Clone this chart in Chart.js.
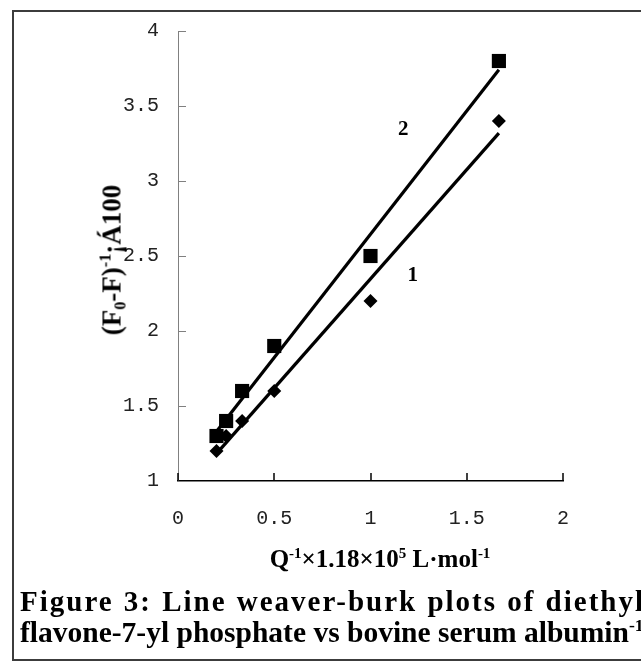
<!DOCTYPE html>
<html>
<head>
<meta charset="utf-8">
<script src="https://cdn.jsdelivr.net/npm/chart.js@4.4.1/dist/chart.umd.min.js"></script>
<style>
  html, body { margin: 0; padding: 0; background: #fff; width: 641px; height: 662px; overflow: hidden; }
  #frame { position: absolute; left: 12px; top: 10px; width: 700px; height: 647px; border: 2px solid #3c3c3c; }
  #chart { position: absolute; left: 0; top: 0; }
  .serif { position: absolute; font-family: "Liberation Serif", "Times New Roman", serif; font-weight: bold; color: #000; white-space: nowrap; }
  .serif sup, .serif sub { font-size: 0.6em; position: relative; vertical-align: baseline; }
  .serif sup { top: -0.62em; }
  .serif sub { top: 0.3em; }
  #ytitle { left: 114px; top: 260px; font-size: 27px; line-height: 27px; transform: translate(-50%, -50%) rotate(-90deg); }
  #xtitle { left: 380px; top: 546px; font-size: 25px; line-height: 25px; transform: translateX(-50%); }
  #cap1 { left: 20px; top: 586px; width: 625px; font-size: 29px; line-height: 31px; letter-spacing: 2px; text-align: justify; text-align-last: justify; }
  #cap2 { left: 20px; top: 617px; font-size: 29.5px; line-height: 31px; }
</style>
</head>
<body>
<div id="frame"></div>
<canvas id="chart" width="641" height="662"></canvas>
<div class="serif" id="ytitle">(F<sub>0</sub>-F)<sup>-1</sup>¡Á100</div>
<div class="serif" id="xtitle">Q<sup>-1</sup>×1.18×10<sup>5</sup> L·mol<sup>-1</sup></div>
<div class="serif" id="cap1">Figure 3: Line weaver-burk plots of diethyl</div>
<div class="serif" id="cap2">flavone-7-yl phosphate vs bovine serum albumin<sup>-1</sup></div>
<script>
// values
const xValues = [0.2, 0.25, 0.333, 0.5, 1, 1.667];
const curve1 = [1.2, 1.3, 1.4, 1.6, 2.2, 3.4];
const curve2 = [1.3, 1.4, 1.6, 1.9, 2.5, 3.8];
const xTicks = [0, 0.5, 1, 1.5, 2];
const yTicks = [1, 1.5, 2, 2.5, 3, 3.5, 4];
const curveNames = ['1', '2'];
const namePos = [[1.22, 2.37], [1.17, 3.34]];

const pts = ys => xValues.map((x, i) => ({ x: x, y: ys[i] }));

// least squares line between first and last x
function fitLine(xs, ys) {
  const n = xs.length;
  const mx = xs.reduce((a, b) => a + b, 0) / n;
  const my = ys.reduce((a, b) => a + b, 0) / n;
  let sxy = 0, sxx = 0;
  xs.forEach((x, i) => { sxy += (x - mx) * (ys[i] - my); sxx += (x - mx) * (x - mx); });
  const k = sxy / sxx;
  const x0 = Math.min(...xs), x1 = Math.max(...xs);
  return [{ x: x0, y: my + k * (x0 - mx) }, { x: x1, y: my + k * (x1 - mx) }];
}

const axisMarks = {
  id: 'axisMarks',
  beforeDatasetsDraw(chart) {
    const { ctx, scales: { x, y } } = chart;
    ctx.save();
    ctx.lineWidth = 1;
    ctx.strokeStyle = '#808080';
    yTicks.forEach(v => {
      const py = Math.round(y.getPixelForValue(v)) + 0.5;
      ctx.beginPath(); ctx.moveTo(x.left, py); ctx.lineTo(x.left + 8, py); ctx.stroke();
    });
    ctx.lineWidth = 1.5;
    ctx.strokeStyle = '#000';
    xTicks.forEach(v => {
      const px = Math.round(x.getPixelForValue(v));
      ctx.beginPath(); ctx.moveTo(px, y.bottom); ctx.lineTo(px, y.bottom - 8); ctx.stroke();
    });
    ctx.restore();
  },
  afterDatasetsDraw(chart) {
    const { ctx, scales: { x, y } } = chart;
    ctx.save();
    ctx.font = 'bold 21px "Liberation Serif", serif';
    ctx.fillStyle = '#000';
    ctx.textAlign = 'center';
    ctx.textBaseline = 'middle';
    curveNames.forEach((t, i) => {
      ctx.fillText(t, x.getPixelForValue(namePos[i][0]), y.getPixelForValue(namePos[i][1]));
    });
    ctx.restore();
  }
};

const tickFont = { family: '"Liberation Mono", "DejaVu Sans Mono", monospace', size: 20 };

new Chart(document.getElementById('chart'), {
  type: 'scatter',
  data: {
    datasets: [
      { data: pts(curve2), pointStyle: 'rect', pointRadius: 10, backgroundColor: '#000', borderColor: '#000', borderWidth: 0 },
      { data: pts(curve1), pointStyle: 'rectRot', pointRadius: 7, backgroundColor: '#000', borderColor: '#000', borderWidth: 0 },
      { data: fitLine(xValues, curve2), showLine: true, pointRadius: 0, borderColor: '#000', borderWidth: 3.2 },
      { data: fitLine(xValues, curve1), showLine: true, pointRadius: 0, borderColor: '#000', borderWidth: 3.2 }
    ]
  },
  options: {
    responsive: false,
    animation: false,
    devicePixelRatio: 1,
    layout: { padding: { left: 0, top: 27, right: 78, bottom: 0 } },
    plugins: { legend: { display: false }, tooltip: { enabled: false } },
    scales: {
      x: {
        min: 0, max: 2,
        afterBuildTicks: s => { s.ticks = xTicks.map(v => ({ value: v })); },
        afterFit: s => { s.height = 181; },
        grid: { display: false, drawTicks: false },
        border: { display: true, color: '#000', width: 1.5 },
        ticks: { font: tickFont, color: '#222', padding: 26, maxRotation: 0, callback: v => String(v) }
      },
      y: {
        min: 1, max: 4,
        afterBuildTicks: s => { s.ticks = yTicks.map(v => ({ value: v })); },
        afterFit: s => { s.width = 178; },
        grid: { display: false, drawTicks: false },
        border: { display: true, color: '#808080', width: 1 },
        ticks: { font: tickFont, color: '#222', padding: 19, callback: v => String(v) }
      }
    }
  },
  plugins: [axisMarks]
});
</script>
</body>
</html>
